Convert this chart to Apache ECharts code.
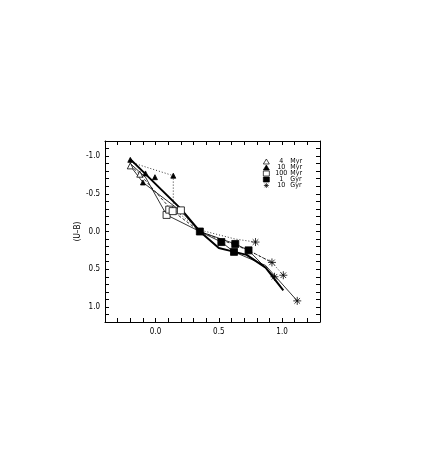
<!DOCTYPE html>
<html>
<head>
<meta charset="utf-8">
<script src="https://cdn.jsdelivr.net/npm/echarts@6/dist/echarts.min.js"></script>
<style>
  html, body { margin: 0; padding: 0; background: #fff; }
  #colourChart { width: 436px; height: 452px; }
</style>
</head>
<body>
<div id="colourChart"></div>
<script>
// age markers, [B-V, U-B]
const myr4 = [[-0.2, -0.87], [-0.125, -0.76]];
const myr10 = [[-0.2, -0.95], [-0.08, -0.77], [-0.1, -0.65], [-0.005, -0.72], [0.14, -0.74]];
const myr100 = [[0.087, -0.22], [0.108, -0.29], [0.135, -0.27], [0.2, -0.28]];
const gyr1 = [[0.35, 0.0], [0.52, 0.14], [0.63, 0.165], [0.62, 0.27], [0.735, 0.25]];
const gyr10 = [[0.79, 0.14], [0.92, 0.41], [1.01, 0.58], [0.94, 0.6], [1.12, 0.92]];

// evolutionary tracks
const trackThick = [[-0.2, -0.96], [0.2, -0.3], [0.35, 0.0], [0.5, 0.22], [0.6, 0.26], [0.72, 0.31], [0.87, 0.48], [1.01, 0.78]];
const trackThinA = [[-0.2, -0.9], [-0.08, -0.72], [0.087, -0.22], [0.35, 0.0], [0.52, 0.14], [0.62, 0.27], [0.87, 0.45], [1.12, 0.92]];
const trackThinB = [[-0.2, -0.87], [-0.1, -0.65], [0.2, -0.27], [0.35, 0.0], [0.63, 0.165], [0.735, 0.25], [0.94, 0.6]];
const trackDashed = [[-0.2, -0.88], [-0.125, -0.76], [0.135, -0.27], [0.35, 0.0], [0.52, 0.11], [0.735, 0.25], [0.92, 0.41]];
const trackDotted = [[-0.2, -0.92], [0.14, -0.74], [0.14, -0.3], [0.35, -0.02], [0.63, 0.1], [0.79, 0.14]];
const trackDotted2 = [[0.735, 0.25], [0.92, 0.41], [1.01, 0.58]];

const ageNames = ["4 Myr", "10 Myr", "100 Myr", "1 Gyr", "10 Gyr"];

const FONT = "'Liberation Sans Narrow', 'DejaVu Sans Condensed', sans-serif";
const ASTERISK = "path://M5,0L5,10M0,5L10,5M1.5,1.5L8.5,8.5M1.5,8.5L8.5,1.5";

// symbol, size, filled - same order as ageNames
const ageSymbols = ["triangle", "triangle", "rect", "rect", ASTERISK];
const ageSizes = [6, 5, 7, 7, 8];
const ageFilled = [false, true, false, true, false];

function fmtTick(v) {
  if (Math.abs(v * 2 - Math.round(v * 2)) < 1e-6) return v.toFixed(1);
  return "";
}

function frameAxis(extra) {
  return Object.assign({
    type: "value",
    interval: 0.1,
    axisLine: { show: true, onZero: false, lineStyle: { color: "#000", width: 1 } },
    axisTick: { show: true, inside: true, length: 4, lineStyle: { color: "#000", width: 1 } },
    splitLine: { show: false },
  }, extra);
}

function track(data, width, type) {
  return {
    type: "line",
    data: data,
    symbol: "none",
    silent: true,
    z: 1,
    lineStyle: { color: "#000", width: width, type: type },
  };
}

function markStyle(filled) {
  return {
    color: filled ? "#000" : "#fff",
    borderColor: "#000",
    borderWidth: 0.8,
    opacity: 1,
  };
}

const agePoints = [myr4, myr10, myr100, gyr1, gyr10];
const ageSeries = ageNames.map(function (name, i) {
  return {
    name: name,
    type: "scatter",
    data: agePoints[i],
    symbol: ageSymbols[i],
    symbolSize: ageSizes[i],
    z: 3,
    itemStyle: markStyle(ageFilled[i]),
  };
});

const legendData = ageNames.map(function (name, i) {
  return {
    name: name,
    icon: ageSymbols[i],
    itemStyle: {
      color: ageFilled[i] ? "#000" : "rgba(0,0,0,0)",
      borderColor: "#000",
      borderWidth: 0.7,
    },
  };
});

const chart = echarts.init(document.getElementById("colourChart"));
const option = {
  animation: false,
  backgroundColor: "#fff",
  grid: { left: 105, right: 116, top: 141, bottom: 130 },
  legend: {
    data: legendData,
    orient: "vertical",
    left: 263,
    top: 158,
    itemWidth: 6,
    itemHeight: 5,
    itemGap: -1,
    padding: 0,
    selectedMode: false,
    formatter: function (name) {
      const parts = name.split(" ");
      return "{n|" + parts[0] + "} {u|" + parts[1] + "}";
    },
    textStyle: {
      fontFamily: FONT,
      fontSize: 7,
      lineHeight: 5,
      color: "#000",
      rich: {
        n: { width: 14, align: "right", fontSize: 7, lineHeight: 5, fontFamily: FONT },
        u: { fontSize: 7, lineHeight: 5, fontFamily: FONT },
      },
    },
  },
  xAxis: [
    frameAxis({
      min: -0.4, max: 1.3, position: "bottom",
      axisLabel: { show: true, margin: 6, fontSize: 8, fontFamily: FONT, color: "#000", formatter: fmtTick },
    }),
    frameAxis({ min: -0.4, max: 1.3, position: "top", axisLabel: { show: false } }),
  ],
  yAxis: [
    frameAxis({
      min: -1.2, max: 1.2, inverse: true, position: "left",
      name: "(U\u2013B)", nameLocation: "middle", nameGap: 22, nameRotate: 90,
      nameTextStyle: { fontSize: 8, fontFamily: FONT, color: "#000" },
      axisLabel: {
        show: true, margin: 5, fontSize: 8, fontFamily: FONT, color: "#000",
        formatter: fmtTick, showMinLabel: false, showMaxLabel: false,
      },
    }),
    frameAxis({ min: -1.2, max: 1.2, inverse: true, position: "right", axisLabel: { show: false } }),
  ],
  series: [
    track(trackThick, 2, "solid"),
    track(trackThinA, 0.8, "solid"),
    track(trackThinB, 0.8, "solid"),
    track(trackDashed, 0.8, [3, 2]),
    track(trackDotted, 0.8, [1, 2]),
    track(trackDotted2, 0.8, [1, 2]),
  ].concat(ageSeries),
};
chart.setOption(option);
</script>
</body>
</html>
